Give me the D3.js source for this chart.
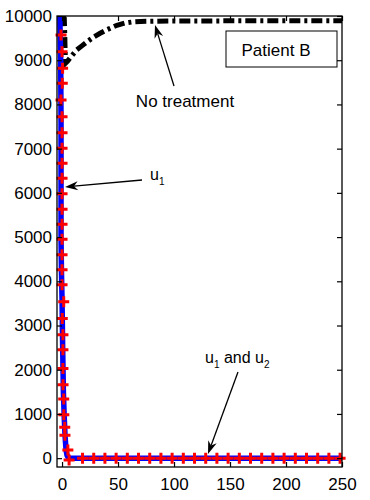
<!DOCTYPE html>
<html>
<head>
<meta charset="utf-8">
<script src="https://cdn.jsdelivr.net/npm/d3@7"></script>
<style>
body { margin: 0; background: #fff; }
text { font-family: "Liberation Sans", Arial, sans-serif; }
</style>
</head>
<body>
<script>
// tick values
var xTicks = [0, 50, 100, 150, 200, 250];
var yTicks = [0, 1000, 2000, 3000, 4000, 5000, 6000, 7000, 8000, 9000, 10000];

// no treatment (black dash-dot)
var noTreatT = [0, 2, 2.5, 3, 5, 8, 13, 18, 22, 28, 34, 40, 49, 56, 63, 75, 100, 150, 200, 250];
var noTreatV = [10000, 9950, 9500, 8930, 8980, 9080, 9230, 9330, 9410, 9520, 9610, 9690, 9790, 9840, 9865, 9880, 9888, 9890, 9890, 9890];

// u1 (blue line)
var blueT = [-2, -1.2, -0.9, -0.9, -0.5, 0, 0.5, 1.2, 2.0, 2.7, 3.6, 4.5, 6, 250];
var blueV = [10000, 9000, 7600, 5000, 4200, 3600, 2600, 1500, 900, 500, 180, 60, 0, 0];

// u1 and u2 (red + markers)
var redT = [-0.9, 0, 0.5, 0.2, -0.9, 0, 0, 0, 0, 0, 0, 0, 0, 0, 0, 0, 0, 1.5, 0.2, 0.8, 0.8, 0.8, 0.9, 1.5, 1.6, 2.4, 2.6, 5.2, 6.3,
            18.3, 28.3, 38.3, 48.3, 58.3, 68.3, 78.3, 88.3, 98.3, 108.3, 118.3, 128.3, 138.3, 148.3, 158.3, 168.3,
            178.3, 188.3, 198.3, 208.3, 218.3, 228.3, 238.3, 248.3];
var redV = [9570, 9190, 8820, 8480, 8100, 7720, 7360, 7010, 6670, 6330, 5980, 5630, 5290, 4950, 4600, 4260, 3920, 3540, 3160, 2790, 2450, 2030, 1660, 1340, 980, 700, 520, 185, -40,
            0, 0, 0, 0, 0, 0, 0, 0, 0, 0, 0, 0, 0, 0, 0, 0,
            0, 0, 0, 0, 0, 0, 0, 0];

var svg = d3.select("body").append("svg")
    .attr("width", 370)
    .attr("height", 500);

var x = d3.scaleLinear().domain([-4.5, 250]).range([57, 342]);
var y = d3.scaleLinear().domain([-200, 10000]).range([467, 16]);

svg.append("clipPath").attr("id", "plot")
    .append("rect")
    .attr("x", 57).attr("y", 16)
    .attr("width", 285).attr("height", 451);

var line = d3.line()
    .x(function(d) { return x(d[0]); })
    .y(function(d) { return y(d[1]); });

var noTreat = noTreatT.map(function(t, i) { return [t, noTreatV[i]]; });
var blue = blueT.map(function(t, i) { return [t, blueV[i]]; });
var red = redT.map(function(t, i) { return [t, redV[i]]; });

var g = svg.append("g").attr("clip-path", "url(#plot)");

g.append("path")
    .datum(noTreat)
    .attr("d", line)
    .attr("fill", "none")
    .attr("stroke", "#000")
    .attr("stroke-width", 5)
    .attr("stroke-dasharray", "11,4,3,4");

g.append("path")
    .datum(blue)
    .attr("d", line)
    .attr("fill", "none")
    .attr("stroke", "#0000ff")
    .attr("stroke-width", 5.5)
    .attr("stroke-linejoin", "round");

svg.append("g")
    .selectAll("path")
    .data(red)
    .enter()
    .append("path")
    .attr("d", function(d) {
        var cx = x(d[0]), cy = y(d[1]);
        return "M" + (cx - 5.5) + "," + cy + "H" + (cx + 5.5) + "M" + cx + "," + (cy - 5.5) + "V" + (cy + 5.5);
    })
    .attr("stroke", "#ff0000")
    .attr("stroke-width", 3)
    .attr("fill", "none");

// axes, ticks inward
var fmt = d3.format("d");
var axisL = svg.append("g").attr("transform", "translate(57,0)")
    .call(d3.axisLeft(y).tickValues(yTicks).tickFormat(fmt).tickSizeInner(-5).tickSizeOuter(0).tickPadding(5));
var axisB = svg.append("g").attr("transform", "translate(0,467)")
    .call(d3.axisBottom(x).tickValues(xTicks).tickFormat(fmt).tickSizeInner(-5).tickSizeOuter(0).tickPadding(11));
var axisR = svg.append("g").attr("transform", "translate(342,0)")
    .call(d3.axisRight(y).tickValues(yTicks).tickSizeInner(-5).tickSizeOuter(0).tickFormat(""));
var axisT = svg.append("g").attr("transform", "translate(0,16)")
    .call(d3.axisTop(x).tickValues(xTicks).tickSizeInner(-5).tickSizeOuter(0).tickFormat(""));

[axisL, axisB, axisR, axisT].forEach(function(a) {
    a.select(".domain").remove();
    a.selectAll("line").attr("stroke", "#000").attr("stroke-width", 1.2);
    a.selectAll("text").attr("fill", "#000").style("font-size", "17px")
        .style("font-family", "'Liberation Sans', Arial, sans-serif");
});

svg.append("rect")
    .attr("x", 57).attr("y", 16)
    .attr("width", 285).attr("height", 451)
    .attr("fill", "none")
    .attr("stroke", "#000")
    .attr("stroke-width", 1.3);

// legend-like box
svg.append("rect")
    .attr("x", 226).attr("y", 31)
    .attr("width", 111).attr("height", 36)
    .attr("fill", "#fff")
    .attr("stroke", "#000")
    .attr("stroke-width", 1);
svg.append("text")
    .attr("x", 276).attr("y", 56)
    .attr("text-anchor", "middle")
    .style("font-size", "17px")
    .text("Patient B");

// annotations
function arrow(x1, y1, x2, y2) {
    var ang = Math.atan2(y2 - y1, x2 - x1),
        len = 13, wid = 4.5, notch = 9;
    var bx = x2 - len * Math.cos(ang), by = y2 - len * Math.sin(ang);
    var nx = x2 - notch * Math.cos(ang), ny = y2 - notch * Math.sin(ang);
    var px = -Math.sin(ang) * wid, py = Math.cos(ang) * wid;
    svg.append("line")
        .attr("x1", x1).attr("y1", y1).attr("x2", nx).attr("y2", ny)
        .attr("stroke", "#000").attr("stroke-width", 1.3);
    svg.append("path")
        .attr("d", "M" + x2 + "," + y2 + "L" + (bx + px) + "," + (by + py) + "L" + nx + "," + ny + "L" + (bx - px) + "," + (by - py) + "Z")
        .attr("fill", "#000");
}

arrow(174, 86, 155, 25);
arrow(142, 180, 65, 187);
arrow(238, 372, 208, 454);

svg.append("text")
    .attr("x", 185).attr("y", 107)
    .attr("text-anchor", "middle")
    .style("font-size", "17px")
    .text("No treatment");

var t1 = svg.append("text").attr("x", 150).attr("y", 180).style("font-size", "16px");
t1.append("tspan").text("u");
t1.append("tspan").attr("dy", 5).style("font-size", "10px").text("1");

var t2 = svg.append("text").attr("x", 205).attr("y", 363).style("font-size", "16px");
t2.append("tspan").text("u");
t2.append("tspan").attr("dy", 5).style("font-size", "10px").text("1");
t2.append("tspan").attr("dy", -5).text(" and u");
t2.append("tspan").attr("dy", 5).style("font-size", "10px").text("2");
</script>
</body>
</html>
